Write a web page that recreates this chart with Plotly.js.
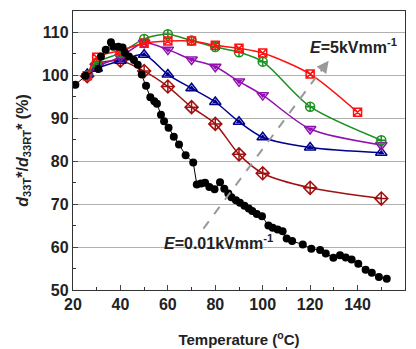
<!DOCTYPE html>
<html><head><meta charset="utf-8">
<script src="https://cdn.plot.ly/plotly-3.0.1.min.js"></script>
<style>html,body{margin:0;padding:0;background:#fff}#c{width:416px;height:349px}</style>
</head><body><div id="c"></div>
<script>
const blackX = [21,25.3,30.7,31.8,33.8,36,37,39.1,40.9,41.9,43.6,45.7,47.3,49,50.8,52.6,54.3,55.4,57.1,58.4,60.3,62.5,64.7,67.5,70.7,72.2,74,75.7,77.5,79.7,82,83.8,85.5,86.8,88.7,90.4,92.3,94.1,95.6,97.5,99.7,102.4,104.2,106.3,108.4,110.1,112.4,116.9,120.5,124.2,126.6,129.8,132.6,135,137.5,140.3,143.4,146,149,152.3];
const blackY = [97.8,99.9,101.5,104.4,106,107.7,106.7,106.7,106.5,105.3,104.4,103.6,102.5,100.2,97.6,94.9,94,93.4,90.8,89.3,87.8,85.7,83.9,81.4,79.7,74.6,74.8,75,74,73.5,75.1,73.6,72.5,71.6,70.9,70.3,69.6,69,68.4,67.7,67.2,65,64.5,64.1,63.7,62,61.4,60.6,59.6,59.3,58.5,57.5,58.1,57.6,57.1,56.1,54.7,54,53,52.6];

const redX = [26,30,40,50,60,70,80,90,100,120,140];
const redY = [99.9,104.2,105.8,107.5,108,108,107,106.3,105.2,100.3,91.4];
const greenX = [26,30,40,50,60,70,80,90,100,120,150];
const greenY = [100,103,105.2,108.5,109.6,108.1,106.6,105.4,103.2,92.7,84.9];
const purpleX = [26,30,40,50,60,70,80,90,100,120,150];
const purpleY = [99.8,102,104.3,107.6,106,103.7,102,98.6,95.4,87.5,83.8];
const blueX = [26,30,40,50,60,70,80,90,100,120,150];
const blueY = [100.3,101.6,103.4,104.8,100.2,97,93.8,89.2,85.6,83.2,82];
const dredX = [26,30,40,50,60,70,80,90,100,120,150];
const dredY = [99.8,102.6,103.4,101,97.4,92.6,88.7,81.6,77.2,73.8,71.3];

const xTicks = [20,40,60,80,100,120,140,160];
const yTicks = [50,60,70,80,90,100,110];

function curve(x,y,color,sym,size){
  return {x:x,y:y,mode:'lines+markers',type:'scatter',line:{color:color,width:1.5,shape:'spline',smoothing:0.8},
    marker:{symbol:sym,size:size,color:color,line:{color:color,width:1.5}},hoverinfo:'skip',showlegend:false};
}
function fill(x,y,color,sym,size){
  return {x:x,y:y,mode:'markers',type:'scatter',marker:{symbol:sym,size:size,color:color,line:{width:0}},hoverinfo:'skip',showlegend:false};
}
const data = [
  curve(dredX,dredY,'#a01010','diamond-cross-open',10),
  curve(blueX,blueY,'#00008f','triangle-up-open',10),
  fill(blueX,blueY,'#00008f','triangle-up',6),
  curve(purpleX,purpleY,'#9010b0','triangle-down-open',10),
  fill(purpleX,purpleY,'#9010b0','triangle-down',6),
  curve(greenX,greenY,'#1a9020','circle-cross-open',9),
  curve(redX,redY,'#ff1010','square-x-open',8),
  {x:blackX,y:blackY,mode:'lines+markers',type:'scatter',line:{color:'#000',width:1},
   marker:{symbol:'circle',size:8,color:'#000'},hoverinfo:'skip',showlegend:false}
];
const f = {family:'Liberation Sans, Arial, sans-serif',size:16,color:'#222'};
const fa = {family:'Liberation Sans, Arial, sans-serif',size:15,color:'#222'};
const layout = {
  width:416,height:349,margin:{l:73,r:11,t:11,b:59},
  paper_bgcolor:'#fff',plot_bgcolor:'#fff',
  font:f,
  xaxis:{range:[20,160],tickvals:xTicks,ticktext:xTicks.map(v=>'<b>'+v+'</b>'),ticks:'inside',ticklen:5,tickwidth:1,
    minor:{dtick:10,ticks:'inside',ticklen:3,tickwidth:1,tickcolor:'#333'},
    showline:true,linecolor:'#333',linewidth:1.2,mirror:true,showgrid:false,zeroline:false,tickfont:f,
    title:{text:'<b>Temperature (<sup>o</sup>C)</b>',font:fa,standoff:22}},
  yaxis:{range:[50,115],tickvals:yTicks,ticktext:yTicks.map(v=>'<b>'+v+'</b>'),ticks:'inside',ticklen:5,tickwidth:1,
    minor:{dtick:5,ticks:'inside',ticklen:3,tickwidth:1,tickcolor:'#333',showgrid:false},
    showline:true,linecolor:'#333',linewidth:1.2,mirror:true,showgrid:true,gridcolor:'#b0b0b0',gridwidth:1,zeroline:false,tickfont:f,
    title:{text:'<b><i>d</i><sub>33T</sub>*/<i>d</i><sub>33RT</sub>* (%)</b>',font:{family:f.family,size:16,color:'#222'},standoff:9}},
  shapes:[{type:'line',xref:'x',yref:'y',x0:75,y0:64.3,x1:125.5,y1:101.8,line:{color:'#999',width:2,dash:'dash'},layer:'above'}],
  annotations:[
    {xref:'x',yref:'y',x:127.8,y:103.4,ax:124,ay:100.6,axref:'x',ayref:'y',showarrow:true,arrowhead:2,arrowsize:1.2,arrowwidth:2,arrowcolor:'#999',text:''},
    {xref:'x',yref:'y',x:119.2,y:106.8,xanchor:'left',yanchor:'middle',showarrow:false,text:'<b><i>E</i>=5kVmm<sup>-1</sup></b>',font:f},
    {xref:'x',yref:'y',x:57.4,y:61.2,xanchor:'left',yanchor:'middle',showarrow:false,text:'<b><i>E</i>=0.01kVmm<sup>-1</sup></b>',font:f}
  ]
};
Plotly.newPlot('c',data,layout,{staticPlot:true});
</script></body></html>
